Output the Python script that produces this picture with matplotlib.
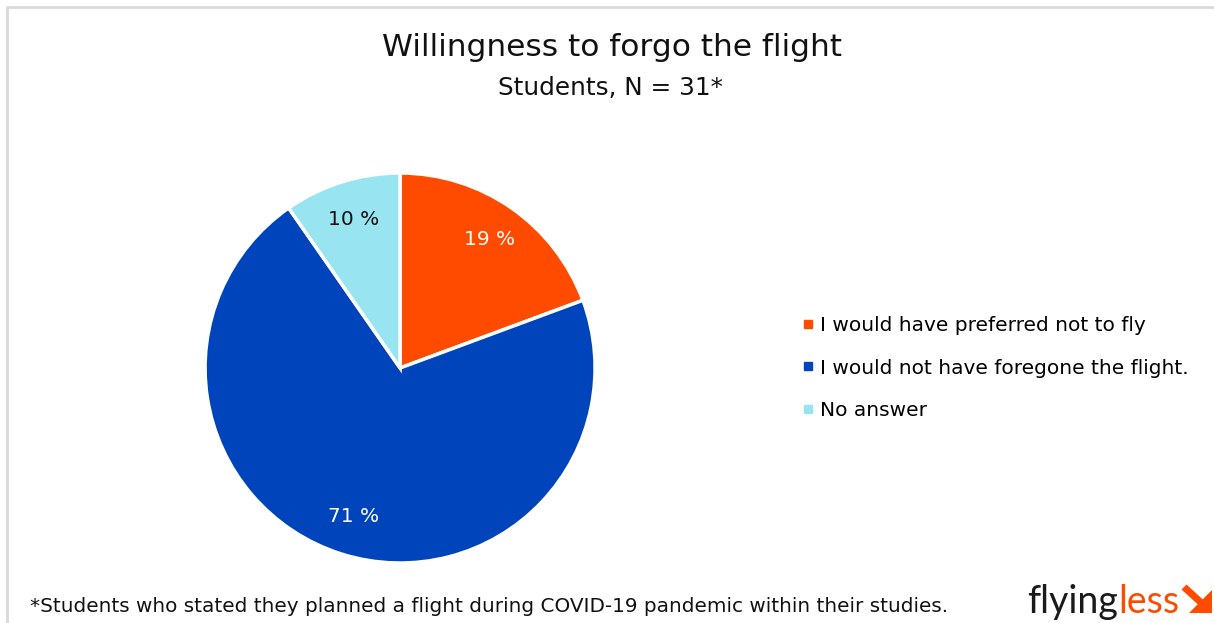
import matplotlib.pyplot as plt
from matplotlib.patches import Rectangle, Polygon
from matplotlib.lines import Line2D

# Daten
labels = ['I would have preferred not to fly',
          'I would not have foregone the flight.',
          'No answer']
counts = [6, 22, 3]
colors = ['#FF4B00', '#0044BB', '#98E4F0']
label_colors = ['white', 'white', '#111111']

title = 'Willingness to forgo the flight'
subtitle = 'Students, N = 31*'
footnote = '*Students who stated they planned a flight during COVID-19 pandemic within their studies.'

plt.rcParams['font.family'] = ['DejaVu Sans']

fig = plt.figure(figsize=(12.14, 6.23), dpi=100)

# Rahmen
fig.patches.append(Rectangle((7 / 1214, -0.05), 1.1, (623 - 7) / 623 + 0.05,
                             transform=fig.transFigure, fill=False,
                             edgecolor='#D9D9D9', linewidth=2))

ax = fig.add_axes([0.1689, 0.0963, 0.3213, 0.626])
wedges, texts, autotexts = ax.pie(
    counts, colors=colors, startangle=90, counterclock=False,
    autopct=lambda p: f'{round(p)} %', pctdistance=0.8,
    wedgeprops=dict(edgecolor='white', linewidth=2.5),
    textprops=dict(fontsize=14.5))
for t, c in zip(autotexts, label_colors):
    t.set_color(c)
ax.set_xlim(-1, 1)
ax.set_ylim(-1, 1)
ax.set_aspect('equal')

fig.text(612 / 1214, 1 - 48 / 623, title, ha='center', va='center', fontsize=22.5, color='#111111')
fig.text(610 / 1214, 1 - 88 / 623, subtitle, ha='center', va='center', fontsize=17.8, color='#111111')

handles = [Line2D([], [], marker='s', linestyle='none', markersize=6,
                  markerfacecolor=c, markeredgecolor=c) for c in colors]
fig.legend(handles, labels, loc='center left', bbox_to_anchor=(790 / 1214, 1 - 368 / 623),
           frameon=False, fontsize=14.5, handletextpad=0.1, labelspacing=1.15,
           handlelength=1.0, borderaxespad=0)

fig.text(30 / 1214, 1 - 607 / 623, footnote, ha='left', va='center', fontsize=14.4, color='#111111')

# Logo
t1 = fig.text(1027 / 1214, 1 - 602 / 623, 'flying', ha='left', va='center',
              fontsize=27, color='#1A1A1A', family='Lato')
fig.canvas.draw()
bb = t1.get_window_extent()
fig.text(bb.x1 / 1214, 1 - 602 / 623, 'less', ha='left', va='center',
         fontsize=27, color='#FF4B00', family='Lato')
shaft = [(1186.5, 584.5), (1181.5, 589.5), (1205, 611), (1210, 606)]
head = [(1212, 590), (1212, 613), (1189, 613)]
for shape in (shaft, head):
    fig.patches.append(Polygon([(x / 1214, 1 - y / 623) for x, y in shape],
                               closed=True, transform=fig.transFigure,
                               facecolor='#FF4B00', edgecolor='none'))

fig.savefig('out.png', dpi=100)
